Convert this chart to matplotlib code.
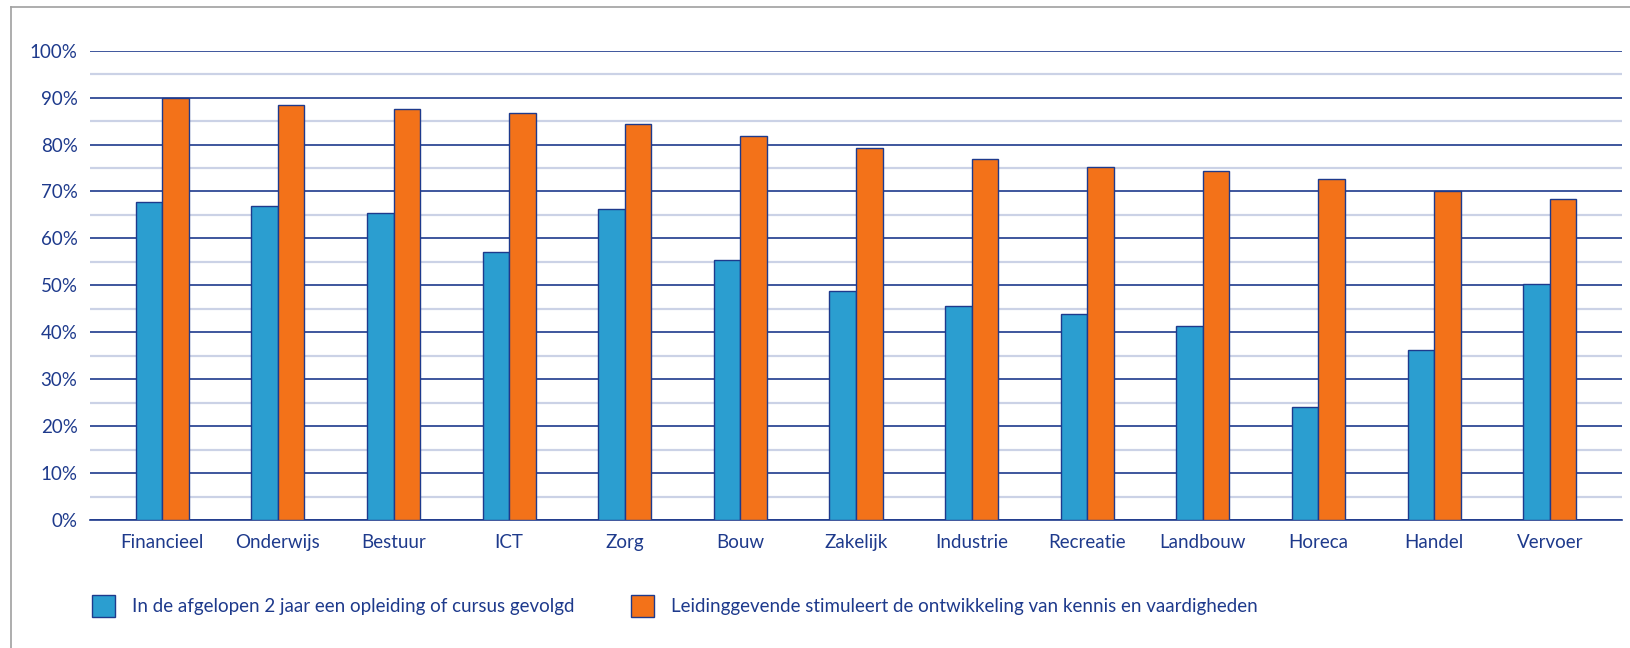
import matplotlib.pyplot as plt
import numpy as np
from matplotlib.lines import Line2D
from matplotlib.patches import Patch
from matplotlib.ticker import MultipleLocator, PercentFormatter

SECTORS = [
    "Financieel", "Onderwijs", "Bestuur", "ICT", "Zorg", "Bouw", "Zakelijk",
    "Industrie", "Recreatie", "Landbouw", "Horeca", "Handel", "Vervoer",
]
OPLEIDING = [67.8, 67.0, 65.4, 57.0, 66.2, 55.4, 48.8, 45.5, 43.8, 41.3, 24.0, 36.3, 50.3]
STIMULEERT = [90.0, 88.4, 87.6, 86.8, 84.3, 81.9, 79.3, 76.9, 75.2, 74.4, 72.7, 70.2, 68.5]
LABELS = [
    "In de afgelopen 2 jaar een opleiding of cursus gevolgd",
    "Leidinggevende stimuleert de ontwikkeling van kennis en vaardigheden",
]

NAVY = "#1e3a8c"
BLUE = "#2b9ed0"
ORANGE = "#f37219"
MINOR = "#cbd2e6"

plt.rcParams["font.family"] = ["Lato", "DejaVu Sans"]

fig = plt.figure(figsize=(16.30, 6.48), dpi=100)
ax = fig.add_axes([90 / 1630, 1 - 520 / 648, 1532 / 1630, 469.3 / 648])

x = np.arange(len(SECTORS))
w = 0.23
ax.bar(x - w / 2, OPLEIDING, width=w, color=BLUE, edgecolor=NAVY, linewidth=1.0, zorder=3)
ax.bar(x + w / 2, STIMULEERT, width=w, color=ORANGE, edgecolor=NAVY, linewidth=1.0, zorder=3)

ax.set_xlim(-0.625, len(SECTORS) - 0.375)
ax.set_ylim(0, 100)
ax.yaxis.set_major_locator(MultipleLocator(10))
ax.yaxis.set_minor_locator(MultipleLocator(5))
ax.yaxis.set_major_formatter(PercentFormatter(decimals=0))
ax.grid(axis="y", which="minor", color=MINOR, linewidth=1.6, zorder=0)
ax.grid(axis="y", which="major", color=NAVY, linewidth=1.2, zorder=1)
ax.set_axisbelow(True)

ax.set_xticks(x)
ax.set_xticklabels(SECTORS)
ax.tick_params(axis="both", which="both", length=0, labelsize=13.5, labelcolor=NAVY)
ax.tick_params(axis="y", pad=9)
ax.tick_params(axis="x", pad=10)
for side in ("left", "right", "top"):
    ax.spines[side].set_visible(False)
ax.spines["bottom"].set_color(NAVY)
ax.spines["bottom"].set_linewidth(1.2)

handles = [
    Patch(facecolor=BLUE, edgecolor=NAVY, linewidth=1.0),
    Patch(facecolor=ORANGE, edgecolor=NAVY, linewidth=1.0),
]
leg = fig.legend(
    handles, LABELS, loc="center left", bbox_to_anchor=(75 / 1630, 1 - 606 / 648),
    ncol=2, frameon=False, fontsize=13.5, handlelength=1.25, handleheight=1.5,
    handletextpad=0.9, columnspacing=3.0,
)
for t in leg.get_texts():
    t.set_color(NAVY)

# thin grey frame at top and left like the source screenshot
fig.add_artist(Line2D([11 / 1630, 1], [1 - 7 / 648, 1 - 7 / 648], color="#a0a0a0", linewidth=1.2))
fig.add_artist(Line2D([11 / 1630, 11 / 1630], [0, 1 - 7 / 648], color="#a0a0a0", linewidth=1.2))

fig.savefig("out.png", dpi=100)
